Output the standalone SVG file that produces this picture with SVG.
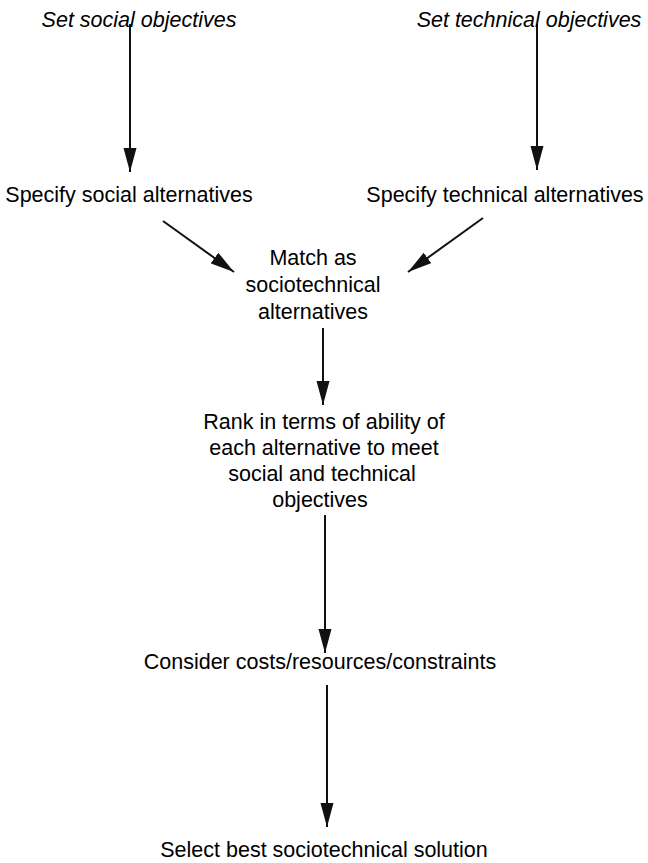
<svg xmlns="http://www.w3.org/2000/svg" width="648" height="863" viewBox="0 0 648 863">
<style>
text{font-family:"Liberation Sans",Arial,Helvetica,sans-serif;font-size:21.5px;fill:#000;text-anchor:middle}
.it{font-style:italic}
.c{stroke:#111;stroke-width:2;fill:none}
</style>
<defs>
<marker id="ah" markerUnits="userSpaceOnUse" markerWidth="26" markerHeight="14" refX="24" refY="6.5" orient="auto">
<path d="M0,0 L24,6.5 L0,13 z" fill="#111"/>
</marker>
</defs>
<rect width="648" height="863" fill="#fff"/>
<g id="connectors">
<line class="c" x1="130" y1="24" x2="130" y2="172" marker-end="url(#ah)"/>
<line class="c" x1="537" y1="24" x2="537" y2="170" marker-end="url(#ah)"/>
<line class="c" x1="163" y1="221" x2="234" y2="272" marker-end="url(#ah)"/>
<line class="c" x1="483" y1="218" x2="408" y2="272" marker-end="url(#ah)"/>
<line class="c" x1="323" y1="328" x2="323" y2="405" marker-end="url(#ah)"/>
<line class="c" x1="325" y1="515" x2="325" y2="653" marker-end="url(#ah)"/>
<line class="c" x1="327" y1="685" x2="327" y2="827" marker-end="url(#ah)"/>
</g>
<g id="set-social"><text class="it" x="139" y="27">Set social objectives</text></g>
<g id="set-technical"><text class="it" x="529" y="27">Set technical objectives</text></g>
<g id="specify-social"><text x="129" y="202">Specify social alternatives</text></g>
<g id="specify-technical"><text x="505" y="202">Specify technical alternatives</text></g>
<g id="match"><text x="313" y="265">Match as</text><text x="313" y="292">sociotechnical</text><text x="313" y="319">alternatives</text></g>
<g id="rank"><text x="324" y="429">Rank in terms of ability of</text><text x="324" y="455">each alternative to meet</text><text x="322" y="481">social and technical</text><text x="320" y="507">objectives</text></g>
<g id="consider"><text x="320" y="669">Consider costs/resources/constraints</text></g>
<g id="select"><text x="324" y="857">Select best sociotechnical solution</text></g>
</svg>
